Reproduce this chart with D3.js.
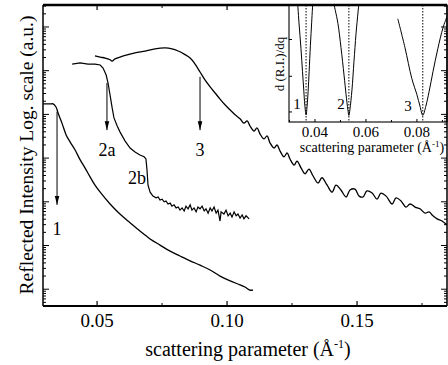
<!DOCTYPE html>
<html>
<head>
<meta charset="utf-8">
<script src="https://cdn.jsdelivr.net/npm/d3@7"></script>
<style>
  body { margin: 0; background: #fff; }
  text { font-family: "Liberation Serif", "DejaVu Serif", serif; fill: #000; }
</style>
</head>
<body>
<script>
"use strict";

// main plot: [q (1/A), log10 reflected intensity]
const curve1 = [[0.0292,4.24],[0.0319,4.24],[0.0331,4.24],[0.0342,4.17],[0.0350,4.03],[0.0365,3.80],[0.0381,3.53],[0.0396,3.37],[0.0415,3.19],[0.0435,2.96],[0.0454,2.77],[0.0473,2.57],[0.0492,2.38],[0.0512,2.22],[0.0550,1.95],[0.0588,1.72],[0.0627,1.52],[0.0665,1.33],[0.0704,1.15],[0.0742,1.01],[0.0781,0.87],[0.0819,0.76],[0.0858,0.65],[0.0896,0.55],[0.0935,0.44],[0.0973,0.30],[0.1012,0.19],[0.1050,0.10],[0.1069,0.05],[0.1088,-0.02],[0.1100,-0.02]];

const curve2 = [[0.0404,5.15],[0.0435,5.18],[0.0465,5.15],[0.0492,5.15],[0.0512,5.13],[0.0523,5.06],[0.0535,4.90],[0.0542,4.72],[0.0550,4.44],[0.0558,4.15],[0.0565,3.92],[0.0577,3.74],[0.0588,3.60],[0.0608,3.39],[0.0627,3.23],[0.0646,3.14],[0.0665,3.07],[0.0681,3.03],[0.0688,2.98],[0.0692,2.73],[0.0696,2.38],[0.0704,2.22],
  [0.0715,2.13],[0.0727,2.09],[0.0735,2.11],[0.0742,2.04],[0.0750,2.06],[0.0758,2.00],[0.0765,2.02],[0.0773,1.95],[0.0781,1.97],[0.0788,1.90],[0.0796,1.93],[0.0804,1.86],[0.0812,1.88],[0.0819,1.81],[0.0827,1.86],[0.0835,1.79],[0.0842,1.90],[0.0850,1.84],[0.0858,1.93],[0.0865,1.81],[0.0873,1.86],[0.0881,1.77],[0.0888,1.88],[0.0896,1.84],[0.0904,1.90],[0.0912,1.79],[0.0919,1.84],[0.0927,1.74],[0.0935,1.86],[0.0942,1.79],[0.0950,1.88],[0.0958,1.74],[0.0965,1.81],[0.0973,1.56],[0.0977,1.77],[0.0988,1.72],[0.0996,1.81],[0.1004,1.68],[0.1012,1.74],[0.1019,1.65],[0.1027,1.77],[0.1035,1.68],[0.1042,1.72],[0.1050,1.63],[0.1058,1.70],[0.1065,1.61],[0.1073,1.68],[0.1085,1.61]];

const curve3 = [[0.0492,5.34],[0.0512,5.31],[0.0531,5.29],[0.0550,5.25],[0.0558,5.22],[0.0569,5.27],[0.0588,5.31],[0.0615,5.36],[0.0646,5.41],[0.0685,5.45],[0.0723,5.50],[0.0762,5.52],[0.0788,5.50],[0.0812,5.45],[0.0835,5.38],[0.0858,5.29],[0.0877,5.15],[0.0896,4.97],[0.0915,4.79],[0.0935,4.63],[0.0954,4.49],[0.0973,4.35],[0.0992,4.22],[0.1012,4.10],[0.1031,3.99],[0.1050,3.90],[0.1065,3.80],[0.1077,3.85],[0.1088,3.74],[0.1104,3.62],[0.1115,3.69],[0.1127,3.55],[0.1142,3.44],[0.1154,3.51],[0.1165,3.35],[0.1181,3.23],[0.1192,3.30],[0.1204,3.16],[0.1219,3.03],[0.1231,3.12],[0.1242,2.98],[0.1258,2.84],[0.1269,2.93],[0.1285,2.77],[0.1300,2.64],[0.1315,2.75],[0.1331,2.59],[0.1350,2.43],[0.1365,2.55],[0.1385,2.38],[0.1404,2.22],[0.1419,2.38],[0.1438,2.27],[0.1458,2.11],[0.1473,2.27],[0.1492,2.29],[0.1508,2.13],[0.1523,2.11],[0.1538,2.25],[0.1558,2.20],[0.1577,2.06],[0.1592,2.20],[0.1612,2.13],[0.1635,1.95],[0.1650,2.09],[0.1669,2.02],[0.1688,1.88],[0.1704,1.95],[0.1723,1.88],[0.1742,1.84],[0.1762,1.74],[0.1777,1.77],[0.1792,1.68],[0.1808,1.61],[0.1827,1.56],[0.1846,1.47]];

const qRange = [0.0292, 0.1846];
const logRange = [-0.384, 6.503];
const xMajorTicks = [0.05, 0.10, 0.15];
const xMinorTicks = [0.075, 0.125, 0.175];
const xTickLabels = ["0.05", "0.10", "0.15"];

// arrows: q position, start and end (log10 intensity)
const arrows = [
  { q: 0.0346, from: 4.06, to: 1.93 },
  { q: 0.0538, from: 4.72, to: 3.64 },
  { q: 0.0896, from: 4.86, to: 3.64 }
];
const notes = [
  { text: "1", q: 0.0346, logR: 1.25 },
  { text: "2a", q: 0.0538, logR: 3.05 },
  { text: "3", q: 0.0896, logR: 3.05 },
  { text: "2b", q: 0.0654, logR: 2.41 }
];

// inset: derivative of reflected intensity (arbitrary units)
const dip1 = [[0.0331,1.05],[0.0337,0.85],[0.0345,0.62],[0.0351,0.42],[0.0356,0.26],[0.0360,0.13],[0.0365,0.045],[0.0369,0.12],[0.0373,0.25],[0.0377,0.42],[0.0382,0.65],[0.0387,0.85],[0.0392,1.05]];
const dip2 = [[0.0470,1.05],[0.0480,0.95],[0.0490,0.84],[0.0502,0.63],[0.0514,0.39],[0.0522,0.22],[0.0529,0.09],[0.0533,0.04],[0.0537,0.09],[0.0545,0.26],[0.0553,0.51],[0.0561,0.75],[0.0569,0.94],[0.0574,1.05]];
const dip3 = [[0.0725,0.88],[0.0753,0.63],[0.0780,0.36],[0.0800,0.22],[0.0812,0.12],[0.0823,0.04],[0.0835,0.12],[0.0848,0.25],[0.0863,0.42],[0.0882,0.62],[0.0902,0.80],[0.0918,0.90]];
const dipCentres = [0.0365, 0.0533, 0.0823];
const dipNotes = [
  { text: "1", q: 0.0329, v: 0.10 },
  { text: "2", q: 0.0502, v: 0.10 },
  { text: "3", q: 0.0765, v: 0.08 }
];
const insetQRange = [0.0298, 0.0918];
const insetXMajor = [0.04, 0.06, 0.08];
const insetXMinor = [0.03, 0.05, 0.07, 0.09];
const insetXLabels = ["0.04", "0.06", "0.08"];
const insetYTicks = [0.07, 0.38, 0.70];

// layout
const box = { left: 43, right: 447, top: 5, bottom: 306 };
const inset = { left: 289, right: 447, top: 5, bottom: 122 };

const svg = d3.select("body").append("svg")
  .attr("width", 448)
  .attr("height", 365);

const defs = svg.append("defs");
defs.append("clipPath").attr("id", "clipMain")
  .append("rect")
  .attr("x", box.left).attr("y", box.top)
  .attr("width", box.right - box.left).attr("height", box.bottom - box.top);
defs.append("clipPath").attr("id", "clipInset")
  .append("rect")
  .attr("x", inset.left).attr("y", inset.top)
  .attr("width", inset.right - inset.left).attr("height", inset.bottom - inset.top);
defs.append("marker")
  .attr("id", "head")
  .attr("viewBox", "0 -3 9 6")
  .attr("refX", 9).attr("refY", 0)
  .attr("markerWidth", 9).attr("markerHeight", 6)
  .attr("markerUnits", "userSpaceOnUse")
  .attr("orient", "auto")
  .append("path")
  .attr("d", "M0,-2.3L9,0L0,2.3Z")
  .attr("fill", "#000");

const x = d3.scaleLinear().domain(qRange).range([box.left, box.right]);
const y = d3.scaleLog()
  .domain(logRange.map(v => Math.pow(10, v)))
  .range([box.bottom, box.top]);

const line = d3.line()
  .x(d => x(d[0]))
  .y(d => y(Math.pow(10, d[1])));

// curves
const plot = svg.append("g").attr("clip-path", "url(#clipMain)");
plot.append("path")
  .attr("d", line.curve(d3.curveCatmullRom)(curve1))
  .attr("fill", "none").attr("stroke", "#000").attr("stroke-width", 1.3);
plot.append("path")
  .attr("d", line.curve(d3.curveLinear)(curve2))
  .attr("fill", "none").attr("stroke", "#000").attr("stroke-width", 1.2);
plot.append("path")
  .attr("d", line.curve(d3.curveCatmullRom)(curve3))
  .attr("fill", "none").attr("stroke", "#000").attr("stroke-width", 1.3);

// arrows and labels
svg.selectAll(".arrow").data(arrows).enter().append("line")
  .attr("class", "arrow")
  .attr("x1", d => x(d.q)).attr("x2", d => x(d.q))
  .attr("y1", d => y(Math.pow(10, d.from)))
  .attr("y2", d => y(Math.pow(10, d.to)))
  .attr("stroke", "#000").attr("stroke-width", 1)
  .attr("marker-end", "url(#head)");

svg.selectAll(".note").data(notes).enter().append("text")
  .attr("class", "note")
  .attr("x", d => x(d.q))
  .attr("y", d => y(Math.pow(10, d.logR)))
  .attr("text-anchor", "middle")
  .style("font-size", "18px")
  .text(d => d.text);

// main axes
const yTicks = y.ticks();
const isDecade = v => Math.abs(Math.log10(v) - Math.round(Math.log10(v))) < 1e-6;

const axes = svg.append("g").attr("stroke", "#000");
xMajorTicks.forEach(t => {
  axes.append("line").attr("x1", x(t)).attr("x2", x(t)).attr("y1", box.bottom).attr("y2", box.bottom - 5).attr("stroke-width", 1.2);
  if (x(t) < inset.left) {
    axes.append("line").attr("x1", x(t)).attr("x2", x(t)).attr("y1", box.top).attr("y2", box.top + 5).attr("stroke-width", 1.2);
  }
});
xMinorTicks.forEach(t => {
  axes.append("line").attr("x1", x(t)).attr("x2", x(t)).attr("y1", box.bottom).attr("y2", box.bottom - 3).attr("stroke-width", 1);
  if (x(t) < inset.left) {
    axes.append("line").attr("x1", x(t)).attr("x2", x(t)).attr("y1", box.top).attr("y2", box.top + 3).attr("stroke-width", 1);
  }
});
yTicks.forEach(t => {
  const len = isDecade(t) ? 6 : 3;
  axes.append("line").attr("x1", box.left).attr("x2", box.left + len).attr("y1", y(t)).attr("y2", y(t)).attr("stroke-width", 1);
});

svg.selectAll(".xlab").data(xMajorTicks).enter().append("text")
  .attr("class", "xlab")
  .attr("x", d => x(d))
  .attr("y", 327)
  .attr("text-anchor", "middle")
  .style("font-size", "19px")
  .text((d, i) => xTickLabels[i]);

const xTitle = svg.append("text")
  .attr("x", 248).attr("y", 356)
  .attr("text-anchor", "middle")
  .style("font-size", "20px");
xTitle.append("tspan").text("scattering parameter (Å");
xTitle.append("tspan").attr("dy", -8).style("font-size", "12px").text("-1");
xTitle.append("tspan").attr("dy", 8).text(")");

svg.append("text")
  .attr("transform", "translate(33,155)rotate(-90)")
  .attr("text-anchor", "middle")
  .style("font-size", "19.5px")
  .text("Reflected Intensity Log. scale (a.u.)");

// inset
const ix = d3.scaleLinear().domain(insetQRange).range([inset.left, inset.right]);
const iy = d3.scaleLinear().domain([0, 1]).range([inset.bottom - 2, inset.top]);
const iline = d3.line().x(d => ix(d[0])).y(d => iy(d[1])).curve(d3.curveCatmullRom);

svg.append("rect")
  .attr("x", inset.left).attr("y", inset.top)
  .attr("width", inset.right - inset.left).attr("height", inset.bottom - inset.top)
  .attr("fill", "#fff").attr("stroke", "#000").attr("stroke-width", 1.1);

const ig = svg.append("g").attr("clip-path", "url(#clipInset)");
ig.selectAll(".centre").data(dipCentres).enter().append("line")
  .attr("class", "centre")
  .attr("x1", d => ix(d)).attr("x2", d => ix(d))
  .attr("y1", inset.top).attr("y2", inset.bottom)
  .attr("stroke", "#000").attr("stroke-width", 1)
  .attr("stroke-dasharray", "1.5,1.5");
[dip1, dip2, dip3].forEach(dip => {
  ig.append("path")
    .attr("d", iline(dip))
    .attr("fill", "none").attr("stroke", "#000").attr("stroke-width", 1);
});

svg.selectAll(".dipnote").data(dipNotes).enter().append("text")
  .attr("class", "dipnote")
  .attr("x", d => ix(d.q)).attr("y", d => iy(d.v))
  .attr("text-anchor", "middle")
  .style("font-size", "15px")
  .text(d => d.text);

const iaxes = svg.append("g").attr("stroke", "#000").attr("stroke-width", 1);
insetXMajor.forEach(t => {
  iaxes.append("line").attr("x1", ix(t)).attr("x2", ix(t)).attr("y1", inset.bottom).attr("y2", inset.bottom - 3);
});
insetXMinor.forEach(t => {
  iaxes.append("line").attr("x1", ix(t)).attr("x2", ix(t)).attr("y1", inset.bottom).attr("y2", inset.bottom - 2);
});
insetYTicks.forEach(t => {
  iaxes.append("line").attr("x1", inset.left).attr("x2", inset.left + 3).attr("y1", iy(t)).attr("y2", iy(t));
});

svg.selectAll(".ixlab").data(insetXMajor).enter().append("text")
  .attr("class", "ixlab")
  .attr("x", d => ix(d))
  .attr("y", inset.bottom + 15)
  .attr("text-anchor", "middle")
  .style("font-size", "15px")
  .text((d, i) => insetXLabels[i]);

const ixTitle = svg.append("text")
  .attr("x", 372).attr("y", inset.bottom + 30)
  .attr("text-anchor", "middle")
  .style("font-size", "14px");
ixTitle.append("tspan").text("scattering parameter (Å");
ixTitle.append("tspan").attr("dy", -5).style("font-size", "9px").text("-1");
ixTitle.append("tspan").attr("dy", 5).text(")");

svg.append("text")
  .attr("transform", "translate(284,64)rotate(-90)")
  .attr("text-anchor", "middle")
  .style("font-size", "13px")
  .text("d (R.I.)/dq");

// right axis ticks (drawn over the inset too) and frame
yTicks.forEach(t => {
  const len = isDecade(t) ? 6 : 3;
  axes.append("line").attr("x1", box.right).attr("x2", box.right - len).attr("y1", y(t)).attr("y2", y(t)).attr("stroke-width", 1);
});
axes.raise();
const frame = svg.append("g").attr("stroke", "#000").attr("fill", "none");
frame.append("line").attr("x1", box.left).attr("x2", box.right).attr("y1", box.top).attr("y2", box.top).attr("stroke-width", 2.4);
frame.append("line").attr("x1", box.left).attr("x2", box.right).attr("y1", box.bottom).attr("y2", box.bottom).attr("stroke-width", 2);
frame.append("line").attr("x1", box.left).attr("x2", box.left).attr("y1", box.top).attr("y2", box.bottom).attr("stroke-width", 1.5);
frame.append("line").attr("x1", box.right).attr("x2", box.right).attr("y1", box.top).attr("y2", box.bottom).attr("stroke-width", 1.5);
</script>
</body>
</html>
